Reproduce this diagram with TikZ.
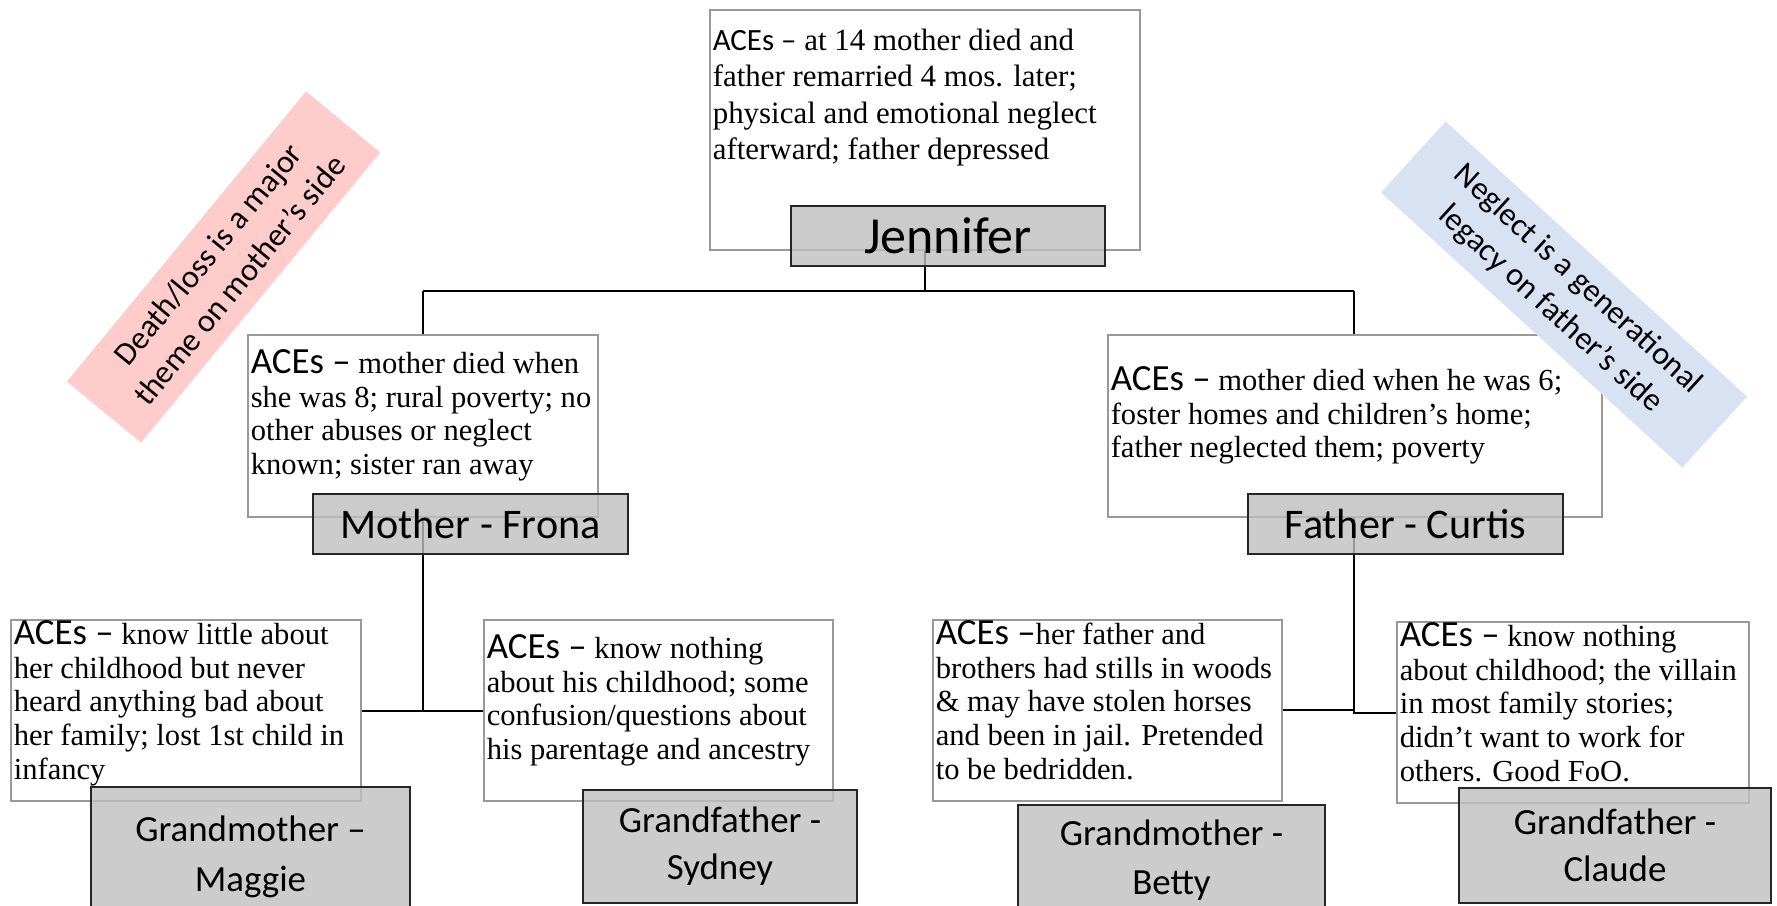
\documentclass[tikz,border=0pt]{standalone}
\usepackage{fontspec}
\setmainfont{Liberation Serif}
\setsansfont{Carlito}
\usetikzlibrary{backgrounds}
\definecolor{lossred}{HTML}{FFCCCC}
\definecolor{neglectblue}{HTML}{D9E2F3}
\newcommand{\ACEs}[1][10.5]{{\sffamily\fontsize{#1}{9.5}\selectfont ACEs --}}
\newcommand{\acesbox}[4]{\parbox[t][#2][t]{\dimexpr#1-0.06cm\relax}{\raggedright\vspace*{#3}#4}}
\tikzset{
  acesnode/.style={draw=black!40, line width=0.45pt, fill=white, anchor=north west,
    inner xsep=0.03cm, inner ysep=0pt, font=\rmfamily\fontsize{8.7}{9.55}\selectfont},
  person/.style={draw=black!85, line width=0.5pt, fill=black!25, fill opacity=0.8,
    text opacity=1, inner sep=0pt, align=center},
  banner/.style={inner sep=0pt, align=center, minimum height=0.96cm,
    font=\sffamily\fontsize{9.2}{11.6}\selectfont}
}
\begin{document}
\begin{tikzpicture}
  \useasboundingbox (0,0) rectangle (17.77,-9.06);
  \node[acesnode, font=\rmfamily\fontsize{8.8}{10.4}\selectfont] (jaces) at (7.09,-0.09) {\acesbox{4.30cm}{2.40cm}{0.19cm}{\ACEs[8.8]\ at 14 mother died and\\ father remarried 4 mos. later;\\ physical and emotional neglect\\ afterward; father depressed}};
  \node[acesnode] (maces) at (2.47,-3.34) {\acesbox{3.50cm}{1.82cm}{0.15cm}{\ACEs\ mother died when\\ she was 8; rural poverty; no\\ other abuses or neglect\\ known; sister ran away}};
  \node[acesnode] (faces) at (11.07,-3.34) {\acesbox{4.94cm}{1.82cm}{0.32cm}{\ACEs\ mother died when he was 6;\\ foster homes and children’s home;\\ father neglected them; poverty}};
  \node[acesnode] (maggieaces) at (0.10,-6.19) {\acesbox{3.50cm}{1.81cm}{0.01cm}{\ACEs\ know little about\\ her childhood but never\\ heard anything bad about\\ her family; lost 1st child in\\ infancy}};
  \node[acesnode] (sydneyaces) at (4.83,-6.19) {\acesbox{3.49cm}{1.81cm}{0.15cm}{\ACEs\ know nothing\\ about his childhood; some\\ confusion/questions about\\ his parentage and ancestry}};
  \node[acesnode] (bettyaces) at (9.32,-6.19) {\acesbox{3.49cm}{1.81cm}{0.01cm}{\ACEs her father and\\ brothers had stills in woods\\ \& may have stolen horses\\ and been in jail. Pretended\\ to be bedridden.}};
  \node[acesnode] (claudeaces) at (13.96,-6.21) {\acesbox{3.52cm}{1.81cm}{0.01cm}{\ACEs\ know nothing\\ about childhood; the villain\\ in most family stories;\\ didn’t want to work for\\ others. Good FoO.}};
  \node[person, minimum width=3.14cm, minimum height=0.60cm, font=\sffamily\fontsize{14.8}{16}\selectfont] (jennifer) at (9.48,-2.36) {Jennifer};
  \node[person, minimum width=3.15cm, minimum height=0.60cm, font=\sffamily\fontsize{12}{14}\selectfont] (mother) at (4.705,-5.24) {Mother - Frona};
  \node[person, minimum width=3.15cm, minimum height=0.60cm, font=\sffamily\fontsize{12}{14}\selectfont] (father) at (14.055,-5.24) {Father - Curtis};
  \node[person, minimum width=3.19cm, minimum height=1.40cm, font=\sffamily\fontsize{10.5}{14.4}\selectfont] (maggie) at (2.505,-8.57) {Grandmother --\\Maggie};
  \node[person, minimum width=2.74cm, minimum height=1.13cm, font=\sffamily\fontsize{10.5}{13.4}\selectfont] (sydney) at (7.20,-8.465) {Grandfather -\\Sydney};
  \node[person, minimum width=3.07cm, minimum height=1.10cm, font=\sffamily\fontsize{10.5}{14}\selectfont] (betty) at (11.715,-8.60) {Grandmother -\\Betty};
  \node[person, minimum width=3.12cm, minimum height=1.15cm, font=\sffamily\fontsize{10.5}{13.4}\selectfont] (claude) at (16.15,-8.455) {Grandfather -\\Claude};
  \node[banner, fill=lossred, rotate=50.5, minimum width=3.76cm] (loss) at (2.235,-2.67) {Death/loss is a major\\theme on mother’s side};
  \node[banner, fill=neglectblue, rotate=-42.4, minimum width=4.08cm] (neglect) at (15.64,-2.945) {Neglect is a generational\\legacy on father’s side};
  \begin{scope}[on background layer, line width=0.85pt]
    \coordinate (jtrunk) at (9.25,-2.91);
    \coordinate (mtrunk) at (4.23,-2.91);
    \coordinate (ftrunk) at (13.54,-2.91);
    \coordinate (mjoin) at (4.23,-7.11);
    \coordinate (bjoin) at (13.54,-7.10);
    \coordinate (fjoin) at (13.54,-7.13);
    \draw (jaces.south -| jtrunk) -- (jtrunk);
    \draw (mtrunk) -- (ftrunk);
    \draw (mtrunk) -- (maces.north -| mtrunk);
    \draw (ftrunk) -- (faces.north -| ftrunk);
    \draw (maces.south -| mjoin) -- (mjoin);
    \draw (maggieaces.east |- mjoin) -- (sydneyaces.west |- mjoin);
    \draw (faces.south -| fjoin) -- (fjoin) -- (claudeaces.west |- fjoin);
    \draw (bettyaces.east |- bjoin) -- (bjoin);
  \end{scope}
\end{tikzpicture}
\end{document}
